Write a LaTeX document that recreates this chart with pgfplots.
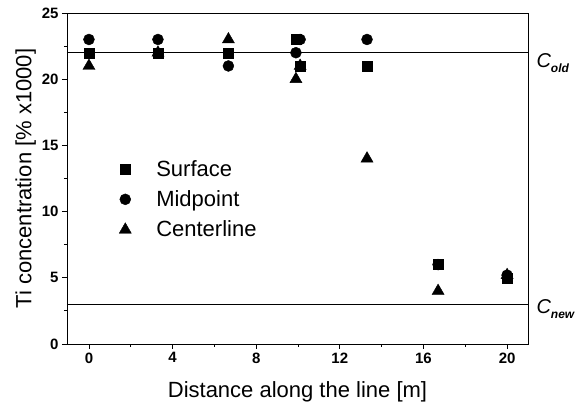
\documentclass[border=0pt]{standalone}
\usepackage{fontspec}
\setmainfont{Liberation Sans}
\setsansfont{Liberation Sans}
\usepackage{pgfplots}
\pgfplotsset{compat=1.18}

\begin{document}
\begin{tikzpicture}[x=1pt,y=1pt]
\begin{axis}[
  at={(0pt,0pt)}, anchor=south west,
  scale only axis, width=461pt, height=331pt,
  xmin=-1.05, xmax=21.0, ymin=0, ymax=25,
  xtick={0,4,...,20}, ytick={0,5,...,25},
  minor xtick={2,6,...,18}, minor ytick={2.5,7.5,...,22.5},
  tick align=outside, xtick pos=left, ytick pos=left,
  major tick length=5pt, minor tick length=3pt,
  tick style={black, line width=0.8pt},
  axis line style={line width=0.8pt},
  /pgf/number format/assume math mode=true,
  ticklabel style={font=\fontsize{15}{18}\selectfont\bfseries},
  xlabel={Distance along the line [m]},
  ylabel={Ti concentration [\% x1000]},
  label style={font=\fontsize{22}{26}\selectfont},
  xlabel style={yshift=-12pt},
  ylabel style={yshift=-1pt},
  clip=false,
  legend cell align=left,
  legend style={draw=none, fill=none, at={(axis cs:1.25,14.2)}, anchor=north west,
    font=\fontsize{22}{26}\selectfont, row sep=9pt},
  legend image code/.code={\path[draw=none,fill=none] (-7pt,0pt) -- (29pt,0pt); \draw[#1] plot coordinates {(0pt,0pt)};},
]
\addplot[only marks, mark=square*, mark size=5pt, black] coordinates {
  (0,22) (3.3,22) (6.67,22) (9.9,23) (10.1,21) (13.3,21) (16.7,6) (20,5)};
\addlegendentry{Surface}
\addplot[only marks, mark=*, mark size=5.5pt, black] coordinates {
  (0,23) (3.3,23) (6.67,21) (9.9,22) (10.1,23) (13.3,23) (16.7,6) (20,5.2)};
\addlegendentry{Midpoint}
\addplot[only marks, mark=triangle*, mark size=7pt, black] coordinates {
  (0,21) (3.3,22) (6.67,23) (9.9,20) (10.1,21) (13.3,14) (16.7,4) (20,5.2)};
\addlegendentry{Centerline}
\addplot[black, line width=0.8pt, forget plot] coordinates {(-1.05,22) (21,22)};
\addplot[black, line width=0.8pt, forget plot] coordinates {(-1.05,3) (21,3)};
\node[anchor=west, inner sep=1pt, font=\fontsize{20}{24}\selectfont\itshape] at (axis cs:21.35,21.2)
  {C\raisebox{-5pt}{\fontsize{12}{14}\selectfont\bfseries old}};
\node[anchor=west, inner sep=1pt, font=\fontsize{20}{24}\selectfont\itshape] at (axis cs:21.35,2.6)
  {C\raisebox{-5pt}{\fontsize{12}{14}\selectfont\bfseries new}};
\end{axis}
\pgfresetboundingbox
\path[use as bounding box] (-67pt,-60pt) rectangle (512pt,344pt);
\end{tikzpicture}
\end{document}
